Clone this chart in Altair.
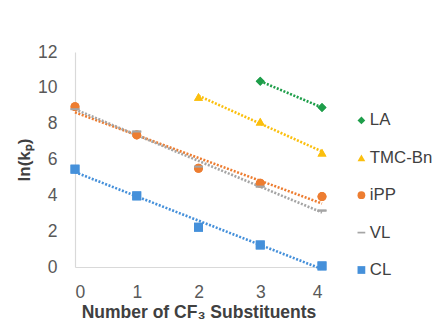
import altair as alt
import pandas as pd

series_names = ["LA", "TMC-Bn", "iPP", "VL", "CL"]
series_colors = ["#1E9E4A", "#FBBF0E", "#ED7D31", "#A5A5A5", "#4590DA"]
series_shapes = ["diamond", "triangle-up", "circle", "M-1,-0.22L1,-0.22L1,0.22L-1,0.22Z", "square"]

la_x = [3, 4]
la_y = [10.37, 8.9]
tmc_x = [2, 3, 4]
tmc_y = [9.5, 8.12, 6.39]
ipp_x = [0, 1, 2, 3, 4]
ipp_y = [8.95, 7.37, 5.51, 4.68, 3.93]
vl_x = [0, 1, 2, 3, 4]
vl_y = [8.81, 7.56, 5.6, 4.49, 3.15]
cl_x = [0, 1, 2, 3, 4]
cl_y = [5.46, 3.97, 2.22, 1.23, 0.06]

rows = []
for name, xs, ys in [("LA", la_x, la_y), ("TMC-Bn", tmc_x, tmc_y), ("iPP", ipp_x, ipp_y),
                     ("VL", vl_x, vl_y), ("CL", cl_x, cl_y)]:
    for xv, yv in zip(xs, ys):
        rows.append({"n": xv, "lnkp": yv, "series": name})
df = pd.DataFrame(rows)

font = "Liberation Sans"

x_enc = alt.X("n:Q", scale=alt.Scale(domain=[0, 4], nice=False),
              axis=alt.Axis(values=[0, 1, 2, 3, 4], title="Number of CF₃ Substituents",
                            format="d", labelPadding=16, titlePadding=3, titleFontSize=17.5))
y_enc = alt.Y("lnkp:Q", scale=alt.Scale(domain=[0, 12], nice=False),
              axis=alt.Axis(values=[0, 2, 4, 6, 8, 10, 12], title="ln(kₚ)",
                            labelPadding=18, titlePadding=4, titleFontSize=17))

color_scale = alt.Scale(domain=series_names, range=series_colors)
shape_scale = alt.Scale(domain=series_names, range=series_shapes)

lines = alt.Chart(df).transform_regression(
    "n", "lnkp", groupby=["series"]
).mark_line(strokeDash=[2, 1.6], strokeWidth=2.6).encode(
    x=x_enc, y=y_enc,
    color=alt.Color("series:N", scale=color_scale),
)

points = alt.Chart(df).mark_point(filled=True, opacity=1, size=80).encode(
    x=x_enc, y=y_enc,
    color=alt.Color("series:N", scale=color_scale),
    shape=alt.Shape("series:N", scale=shape_scale),
)

chart = alt.layer(points, lines, points).properties(
    width=247, height=215,
    background="white",
    autosize=alt.AutoSizeParams(type="none"),
    padding={"left": 67, "top": 44, "right": 115, "bottom": 54},
).configure_view(stroke=None).configure_axis(
    grid=False, ticks=False, domainColor="#D9D9D9", domainWidth=1.2,
    labelFont=font, labelFontSize=17.5, labelColor="#595959",
    titleFont=font, titleColor="#404040", titleFontWeight="bold",
).configure_legend(
    title=None, orient="none", legendX=278, legendY=60, padding=0,
    labelFontSize=16.8, labelColor="#404040", labelFont=font,
    symbolSize=60, rowPadding=19.4, symbolStrokeWidth=0, labelOffset=0,
)

chart.save("out.html", embed_options={"renderer": "svg", "actions": False})
